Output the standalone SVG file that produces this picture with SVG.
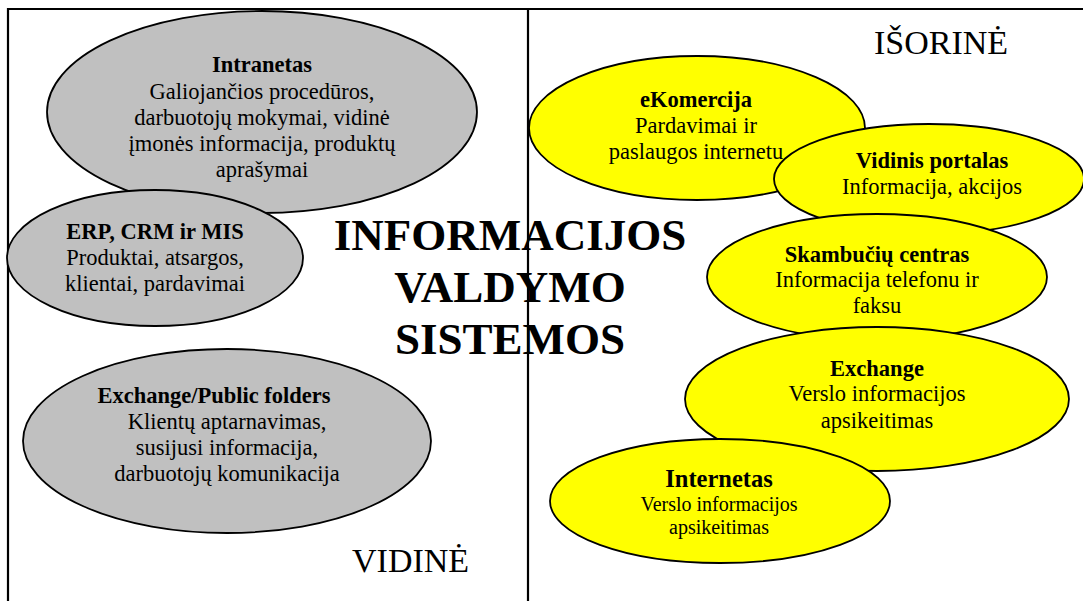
<svg xmlns="http://www.w3.org/2000/svg" width="1083" height="601" viewBox="0 0 1083 601">
<style>
.g{fill:#C0C0C0;stroke:#000;stroke-width:1.8}
.y{fill:#FFFF00;stroke:#000;stroke-width:1.8}
text{font-family:"Liberation Serif","Times New Roman",serif;fill:#000;text-anchor:middle}
.t{font-weight:bold;font-size:22.5px}
.b{font-size:22.5px}
.big{font-weight:bold;font-size:45px}
.zone{font-size:34px;text-anchor:start}
.frame{stroke:#000;stroke-width:2.2;fill:none}
</style>
<rect width="1083" height="601" fill="#fff"/>
<g id="frame">
<path class="frame" d="M8,601 V9 H1083 M528,9 V601"/>
</g>
<g id="connectors"/>
<g id="intranetas">
<ellipse class="g" cx="262" cy="112" rx="215" ry="101"/>
<text x="262" y="72" class="t">Intranetas</text>
<text x="262" y="99" class="b">Galiojančios procedūros,</text>
<text x="262" y="125" class="b">darbuotojų mokymai, vidinė</text>
<text x="262" y="151" class="b">įmonės informacija, produktų</text>
<text x="262" y="177" class="b">aprašymai</text>
</g>
<g id="erp">
<ellipse class="g" cx="155" cy="258" rx="148" ry="68"/>
<text x="155" y="239" class="t">ERP, CRM ir MIS</text>
<text x="155" y="265" class="b">Produktai, atsargos,</text>
<text x="155" y="291" class="b">klientai, pardavimai</text>
</g>
<g id="exchange-public">
<ellipse class="g" cx="227" cy="441" rx="204" ry="92"/>
<text x="214" y="403" class="t">Exchange/Public folders</text>
<text x="227" y="429" class="b">Klientų aptarnavimas,</text>
<text x="227" y="455" class="b">susijusi informacija,</text>
<text x="227" y="481" class="b">darbuotojų komunikacija</text>
</g>
<g id="ekomercija">
<ellipse class="y" cx="697" cy="128" rx="168" ry="72"/>
<text x="696" y="107" class="t">eKomercija</text>
<text x="696" y="133" class="b">Pardavimai ir</text>
<text x="696" y="159" class="b">paslaugos internetu</text>
</g>
<g id="vidinis-portalas">
<ellipse class="y" cx="929" cy="179" rx="155" ry="55"/>
<text x="932" y="168" class="t">Vidinis portalas</text>
<text x="932" y="194" class="b">Informacija, akcijos</text>
</g>
<g id="skambuciu-centras">
<ellipse class="y" cx="877" cy="277" rx="170" ry="63"/>
<text x="877" y="262" class="t">Skambučių centras</text>
<text x="877" y="287" class="b">Informacija telefonu ir</text>
<text x="877" y="313" class="b">faksu</text>
</g>
<g id="exchange">
<ellipse class="y" cx="877" cy="399" rx="192" ry="72"/>
<text x="877" y="376" class="t">Exchange</text>
<text x="877" y="401" class="b">Verslo informacijos</text>
<text x="877" y="428" class="b">apsikeitimas</text>
</g>
<g id="internetas">
<ellipse class="y" cx="720" cy="501" rx="170" ry="62"/>
<text x="719" y="487" style="font-weight:bold;font-size:24.5px">Internetas</text>
<text x="719" y="511" style="font-size:20px">Verslo informacijos</text>
<text x="719" y="534" style="font-size:20px">apsikeitimas</text>
</g>
<g id="title">
<text x="510" y="250" class="big">INFORMACIJOS</text>
<text x="510" y="302" class="big">VALDYMO</text>
<text x="510" y="354" class="big">SISTEMOS</text>
</g>
<g id="labels">
<text x="874" y="54" class="zone">IŠORINĖ</text>
<text x="352" y="572" class="zone">VIDINĖ</text>
</g>
</svg>
